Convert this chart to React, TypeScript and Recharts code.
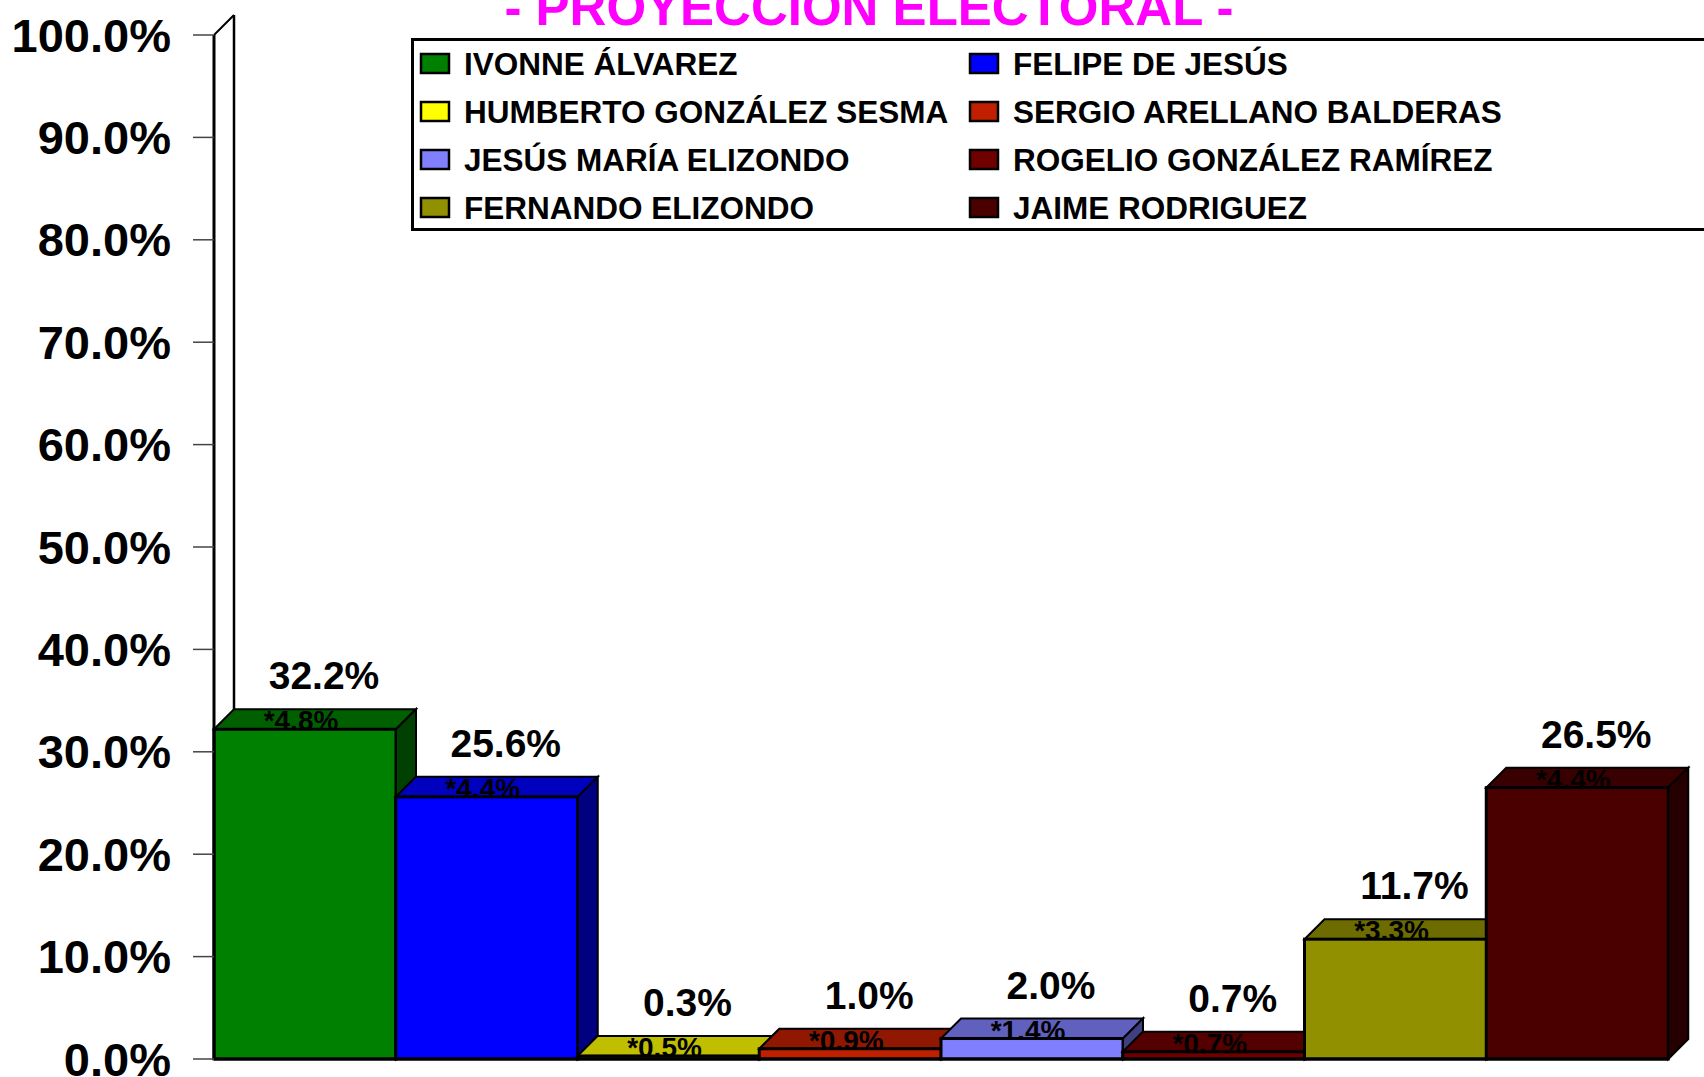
import { Bar, BarChart, Legend, ReferenceArea, XAxis, YAxis } from "recharts";

const FONT = '"Liberation Sans", Arial, sans-serif';

const candidates = [
	"IVONNE ÁLVAREZ",
	"FELIPE DE JESÚS",
	"HUMBERTO GONZÁLEZ SESMA",
	"SERGIO ARELLANO BALDERAS",
	"JESÚS MARÍA ELIZONDO",
	"ROGELIO GONZÁLEZ RAMÍREZ",
	"FERNANDO ELIZONDO",
	"JAIME RODRIGUEZ",
];
const votes = [32.2, 25.6, 0.3, 1.0, 2.0, 0.7, 11.7, 26.5];
const margins = [4.8, 4.4, 0.5, 0.9, 1.4, 0.7, 3.3, 4.4];
const colors = [
	"#008000",
	"#0000ff",
	"#ffff00",
	"#c02000",
	"#8080ff",
	"#700000",
	"#909000",
	"#4b0000",
];
const yTicks = [0, 10, 20, 30, 40, 50, 60, 70, 80, 90, 100];

const data = candidates.map((name, i) => ({
	name,
	value: votes[i],
	margin: margins[i],
	color: colors[i],
}));

const DEPTH = 20;

function shade(hex: string, f: number): string {
	const n = parseInt(hex.slice(1), 16);
	const r = Math.round(((n >> 16) & 255) * f);
	const g = Math.round(((n >> 8) & 255) * f);
	const b = Math.round((n & 255) * f);
	return `rgb(${r},${g},${b})`;
}

// 3D box: top face, error text, front face, right side
function Box3D(props: any) {
	const { x, y, width, height, payload } = props;
	const c = payload.color;
	const d = DEPTH;
	const top = `${x},${y} ${x + d},${y - d} ${x + width + d},${y - d} ${x + width},${y}`;
	const side = `${x + width},${y} ${x + width + d},${y - d} ${x + width + d},${y + height - d} ${x + width},${y + height}`;
	return (
		<g>
			<polygon points={top} fill={shade(c, 0.75)} stroke="#000" strokeWidth={2} />
			<text
				x={x + width / 2 - 4}
				y={y + 1}
				textAnchor="middle"
				fontFamily={FONT}
				fontWeight="bold"
				fontSize={28}
				fill="#000"
			>
				*{payload.margin.toFixed(1)}%
			</text>
			<rect x={x} y={y} width={width} height={height} fill={c} stroke="#000" strokeWidth={3} />
			<polygon points={side} fill={shade(c, 0.5)} stroke="#000" strokeWidth={2} />
		</g>
	);
}

function Wall(props: any) {
	const { x, y, height } = props;
	const d = DEPTH;
	return (
		<g>
			<line x1={x} y1={y} x2={x + d} y2={y - d} stroke="#000" strokeWidth={2} />
			<line x1={x + d} y1={y - d} x2={x + d} y2={y + height - d} stroke="#000" strokeWidth={2.5} />
		</g>
	);
}

function ValueLabel(props: any) {
	const vb = props.viewBox ?? props;
	const x = vb.x ?? props.x;
	const y = vb.y ?? props.y;
	const w = vb.width ?? props.width;
	return (
		<text
			x={x + w / 2 + 19}
			y={y - 40}
			textAnchor="middle"
			fontFamily={FONT}
			fontWeight="bold"
			fontSize={39}
			fill="#000"
		>
			{Number(props.value).toFixed(1)}%
		</text>
	);
}

function LegendBox() {
	return (
		<svg width={1330} height={194} style={{ display: "block" }}>
			<rect x={1.5} y={1.5} width={1400} height={190} fill="#fff" stroke="#000" strokeWidth={3} />
			{data.map((d, i) => {
				const col = i % 2;
				const row = Math.floor(i / 2);
				const cy = 26 + row * 48;
				const sx = col === 0 ? 10 : 559;
				return (
					<g key={d.name}>
						<rect x={sx} y={cy - 10} width={28} height={19} fill={d.color} stroke="#000" strokeWidth={2.5} />
						<text
							x={sx + 43}
							y={cy + 11}
							fontFamily={FONT}
							fontWeight="bold"
							fontSize={31.5}
							fill="#000"
						>
							{d.name}
						</text>
					</g>
				);
			})}
		</svg>
	);
}

export default function App() {
	return (
		<div
			style={{
				position: "absolute",
				left: 0,
				top: 0,
				width: 1704,
				height: 1077,
				overflow: "hidden",
				background: "#fff",
				fontFamily: FONT,
			}}
		>
			<BarChart
				width={1704}
				height={1077}
				data={data}
				margin={{ top: 35, right: 36, left: 0, bottom: 0 }}
				barCategoryGap={0}
				barGap={0}
			>
				<XAxis
					dataKey="name"
					height={18}
					tick={false}
					tickLine={false}
					axisLine={{ stroke: "#000", strokeWidth: 3 }}
				/>
				<YAxis
					width={214}
					domain={[0, 100]}
					ticks={yTicks}
					interval={0}
					tickFormatter={(v: number) => `${v.toFixed(1)}%`}
					tickSize={21}
					tickMargin={22}
					tickLine={{ stroke: "#444", strokeWidth: 1.5 }}
					axisLine={{ stroke: "#000", strokeWidth: 3 }}
					tick={{ fill: "#000", fontSize: 47, fontWeight: "bold", fontFamily: FONT }}
				/>
				<ReferenceArea y1={0} y2={100} fill="none" shape={(p: any) => <Wall {...p} />} />
				<Legend
					layout="horizontal"
					verticalAlign="middle"
					align="center"
					wrapperStyle={{ left: 411, top: 38, width: 1330, height: 194 }}
					content={() => <LegendBox />}
				/>
				<Bar
					dataKey="value"
					isAnimationActive={false}
					shape={(p: any) => <Box3D {...p} />}
					label={(p: any) => <ValueLabel {...p} />}
				/>
			</BarChart>
			<svg
				width={1704}
				height={60}
				style={{ position: "absolute", left: 0, top: 0, pointerEvents: "none" }}
			>
				<text
					x={869}
					y={25}
					textAnchor="middle"
					fontFamily={FONT}
					fontWeight="bold"
					fontSize={51}
					fill="#ff00ff"
				>
					- PROYECCION ELECTORAL -
				</text>
			</svg>
		</div>
	);
}
